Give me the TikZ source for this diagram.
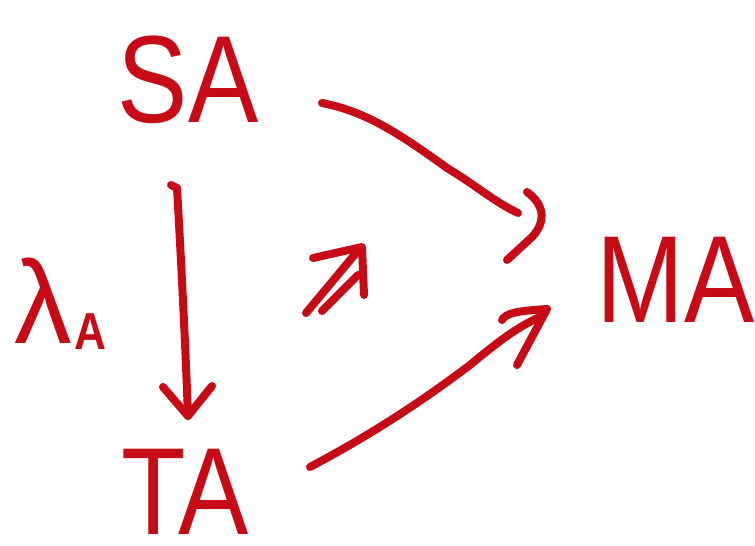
\documentclass[tikz,border=0pt]{standalone}
\usepackage{fontspec}
\setmainfont{Liberation Sans}
\usetikzlibrary{calc}
\definecolor{ink}{RGB}{198,10,22}
\begin{document}
\begin{tikzpicture}[x=1pt,y=-1pt,
  lbl/.style={inner sep=0pt, text=ink, anchor=base, xscale=0.85,
              font=\fontsize{124}{124}\selectfont},
  pen/.style={draw=ink, line width=8pt, line cap=round, line join=round}]
\useasboundingbox (0,0) rectangle (755,546);

% objects
\node[lbl] (SA) at (188,122) {SA};
\node[lbl] (MA) at (676,322) {MA};
\node[lbl] (TA) at (185,534) {TA};

% label of the vertical arrow
\node[lbl, xscale=1.15, anchor=base west, font=\fontsize{118}{118}\selectfont] (lam) at (14,343) {λ};
\node[lbl, xscale=1, anchor=base west, font=\bfseries\fontsize{52}{52}\selectfont] (lamsub) at ($(lam.base east)+(2,6)$) {A};

% SA -> TA
\coordinate (st1) at ($(SA.base)+(-11,66)$);
\coordinate (tip1) at ($(TA.base)+(3,-118)$);
\draw[pen] ($(st1)+(-6,-3)$) -- (st1) .. controls ($(st1)+(4,70)$) and ($(tip1)+(-3,-80)$) .. (tip1);
\draw[pen] ($(tip1)+(-25,-29)$) -- (tip1) -- ($(tip1)+(24,-30)$);

% SA -> MA
\coordinate (st2) at ($(SA.base)+(134,-19)$);
\coordinate (mid2) at ($(st2)+(125,65)$);
\coordinate (end2) at ($(MA.base)+(-158,-109)$);
\draw[pen] (st2) .. controls ($(st2)+(40,8)$) and ($(mid2)+(-55,-40)$) .. (mid2)
  .. controls ($(mid2)+(30,18)$) and ($(end2)+(-25,-12)$) .. (end2);
\draw[pen] ($(end2)+(9,-21)$) .. controls ($(end2)+(27,-8)$) and ($(end2)+(28,9)$) .. ($(end2)+(14,24)$)
  -- ($(end2)+(-11,47)$);

% TA -> MA
\coordinate (st3) at ($(TA.base)+(125,-67)$);
\coordinate (mid3) at ($(st3)+(160,-102)$);
\coordinate (end3) at ($(MA.base)+(-134,-6)$);
\draw[pen] (st3) .. controls ($(st3)+(70,-37)$) and ($(mid3)+(-40,30)$) .. (mid3)
  .. controls ($(mid3)+(30,-25)$) and ($(end3)+(-23,10)$) .. (end3);
\draw[pen] ($(end3)+(-40,4)$) .. controls ($(end3)+(-36,-3)$) and ($(end3)+(-25,-5)$) .. ($(end3)+(5,-7)$)
  -- ($(end3)+(-25,49)$);

% double arrow
\coordinate (d1) at (306,313);
\coordinate (d2) at (322,311);
\coordinate (dtip) at (362,247);
\draw[pen] (d1) -- ($(dtip)+(-6,6)$);
\draw[pen] (d2) -- ($(dtip)+(-4,28)$);
\draw[pen] ($(dtip)+(-49,11)$) -- (dtip) -- ($(dtip)+(2,48)$);
\end{tikzpicture}
\end{document}
